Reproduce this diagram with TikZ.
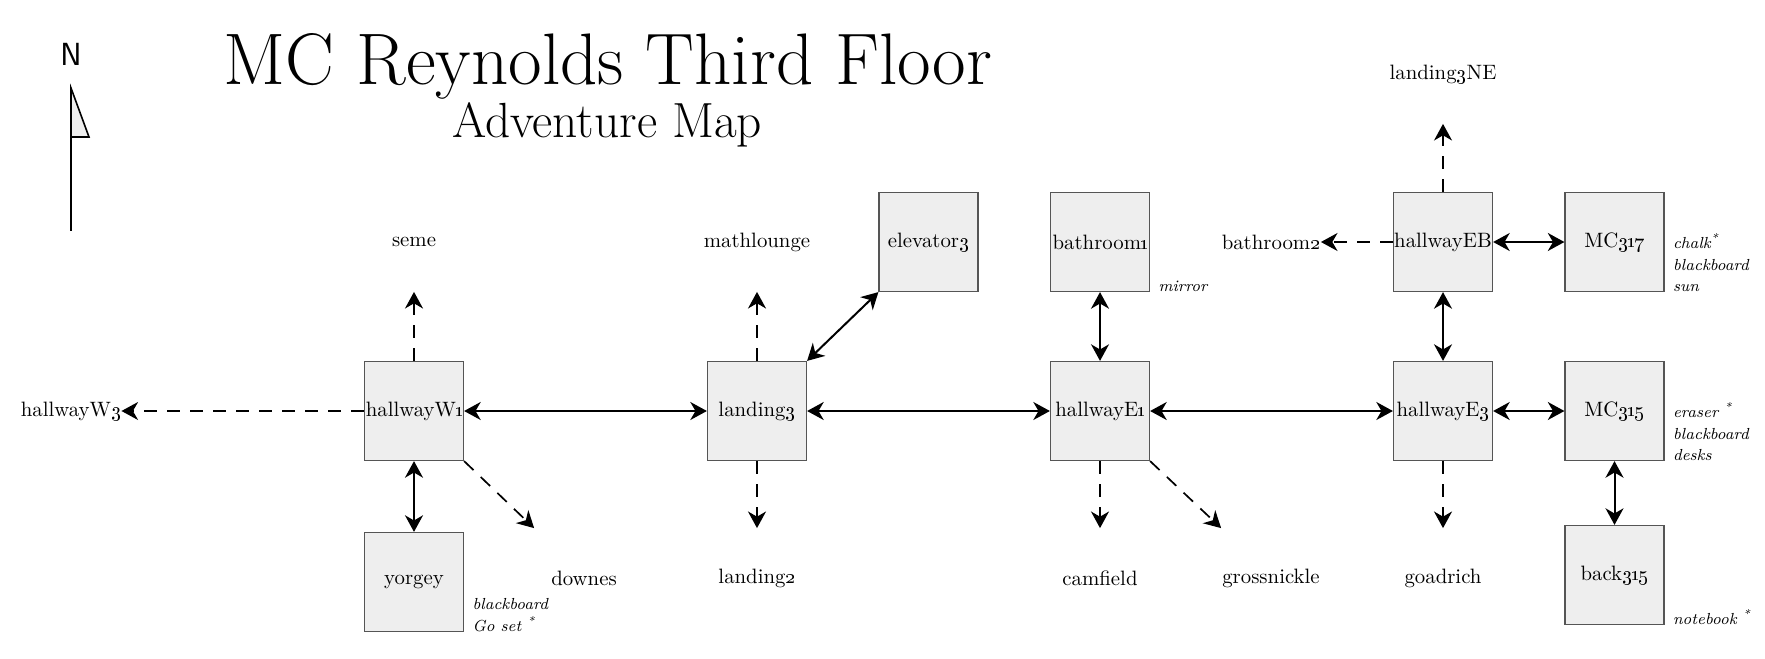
\documentclass[tikz,border=0pt]{standalone}
\usetikzlibrary{arrows.meta}
\definecolor{boxfill}{HTML}{EEEEEE}
\definecolor{boxline}{HTML}{555555}
\newcommand{\osn}[1]{\oldstylenums{#1}}
\newcommand{\oone}{\kern-0.09em\oldstylenums{1}\kern-0.09em}
\begin{document}
\begin{tikzpicture}[x=0.5pt,y=-0.5pt,
  room/.style={draw=boxline, fill=boxfill, line width=0.6pt, minimum width=49.5pt, minimum height=49.5pt, inner sep=0pt, font=\fontsize{10.4}{12}\selectfont},
  place/.style={minimum width=49.5pt, minimum height=49.5pt, inner sep=0pt, font=\fontsize{10.4}{12}\selectfont},
  note/.style={anchor=south west, inner sep=0pt, align=left, font=\fontsize{8}{10.75}\selectfont\itshape},
  tip/.tip={Stealth[length=8.3pt,width=9pt,inset=2.6pt]},
  link/.style={tip-tip, line width=1pt},
  exit/.style={-tip, line width=0.85pt, dash pattern=on 6.5pt off 5pt},
]
\useasboundingbox (0,0) rectangle (1765,658);

% title
\node[font=\fontsize{36.5}{42}\selectfont, anchor=base, inner sep=0pt] (title) at (608,84) {MC Reynolds Third Floor};
\node[font=\fontsize{24.7}{29}\selectfont, anchor=base, inner sep=0pt] (subtitle) at (607,137) {Adventure Map};

% compass
\node[font=\fontsize{16}{18}\selectfont\sffamily, inner sep=0pt] (north) at (71,54) {N};
\coordinate (ctop) at (71,88);
\coordinate (cbot) at (71,231);
\draw[line width=0.8pt] (ctop) -- (cbot);
\filldraw[fill=boxfill, draw=black, line width=0.8pt] (ctop) -- (89,137) -- (71,137) -- cycle;

% rooms
\node[room] (hallwayW1) at (414,411) {hallwayW\oone};
\node[room] (yorgey) at (414,582) {yorgey};
\node[room] (landing3) at (757,411) {landing\osn{3}};
\node[room] (elevator3) at (928.5,242) {elevator\osn{3}};
\node[room] (bathroom1) at (1100,242) {bathroom\oone};
\node[room] (hallwayE1) at (1100,411) {hallwayE\oone};
\node[room] (hallwayEB) at (1443,242) {hallwayEB};
\node[room] (MC317) at (1614.5,242) {MC\osn{3}\oone\osn{7}};
\node[room] (hallwayE3) at (1443,411) {hallwayE\osn{3}};
\node[room] (MC315) at (1614.5,411) {MC\osn{3}\oone\osn{5}};
\node[room] (back315) at (1614.5,575) {back\osn{3}\oone\osn{5}};

% places outside
\node[place] (seme) at (414,242) {seme};
\node[place] (mathlounge) at (757,242) {mathlounge};
\node[place] (landing3NE) at (1443,74) {landing\osn{3}NE};
\node[place] (bathroom2) at (1271,242) {bathroom\osn{2}};
\node[place] (hallwayW3) at (71,411) {hallwayW\osn{3}};
\node[place] (downes) at (584,578) {downes};
\node[place] (landing2) at (757,578) {landing\osn{2}};
\node[place] (camfield) at (1100,578) {camfield};
\node[place] (grossnickle) at (1271,578) {grossnickle};
\node[place] (goadrich) at (1443,578) {goadrich};

% items
\node[note] (yorgeyitems) at ([xshift=4pt]yorgey.south east) {blackboard\\Go set \textsuperscript{*}};
\node[note] (bathroom1items) at ([xshift=4pt]bathroom1.south east) {mirror};
\node[note] (MC317items) at ([xshift=4pt]MC317.south east) {chalk\textsuperscript{*}\\blackboard\\sun};
\node[note] (MC315items) at ([xshift=4pt]MC315.south east) {eraser \textsuperscript{*}\\blackboard\\desks};
\node[note] (back315items) at ([xshift=4pt]back315.south east) {notebook \textsuperscript{*}};

% two-way passages
\draw[link] (hallwayW1) -- (landing3);
\draw[link] (hallwayW1) -- (yorgey);
\draw[link] (landing3.north east) -- (elevator3.south west);
\draw[link] (landing3) -- (hallwayE1);
\draw[link] (bathroom1) -- (hallwayE1);
\draw[link] (hallwayE1) -- (hallwayE3);
\draw[link] (hallwayEB) -- (hallwayE3);
\draw[link] (hallwayEB) -- (MC317);
\draw[link] (hallwayE3) -- (MC315);
\draw[link] (MC315) -- (back315);

% exits
\draw[exit] (hallwayW1) -- (seme);
\draw[exit] (hallwayW1) -- (hallwayW3);
\draw[exit] (hallwayW1.south east) -- (downes.north west);
\draw[exit] (landing3) -- (mathlounge);
\draw[exit] (landing3) -- (landing2);
\draw[exit] (hallwayE1) -- (camfield);
\draw[exit] (hallwayE1.south east) -- (grossnickle.north west);
\draw[exit] (hallwayE3) -- (goadrich);
\draw[exit] (hallwayEB) -- (landing3NE);
\draw[exit] (hallwayEB) -- (bathroom2);
\end{tikzpicture}
\end{document}
